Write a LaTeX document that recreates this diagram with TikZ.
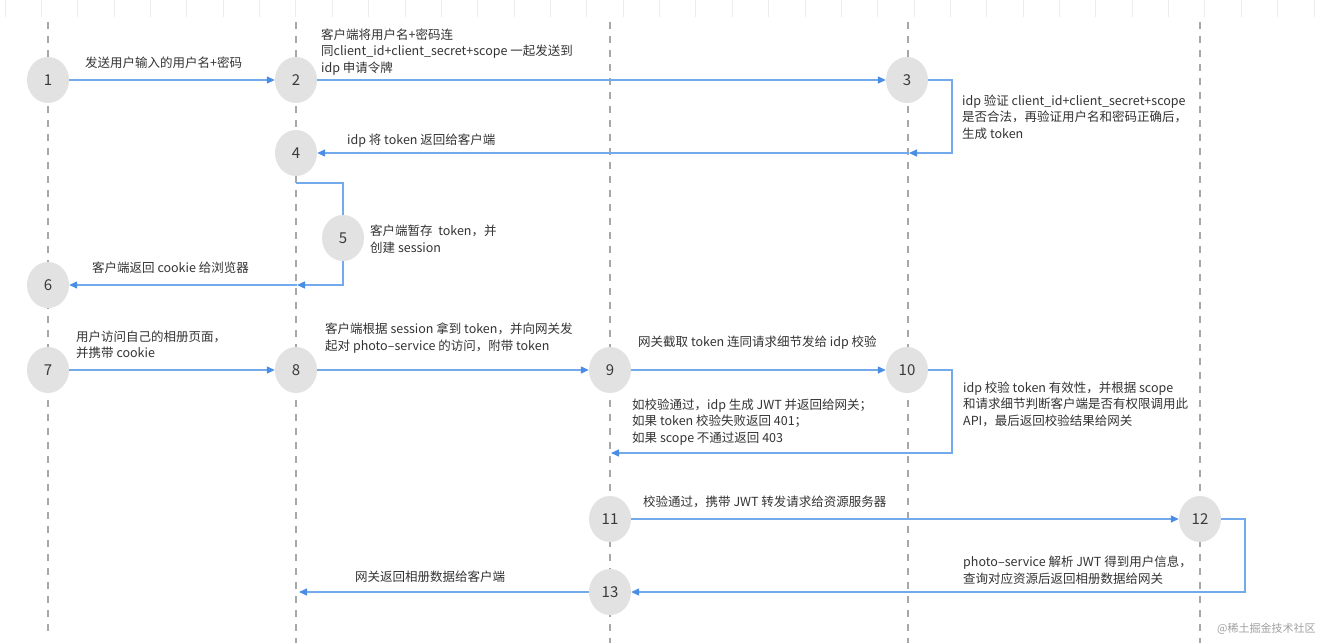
\documentclass[tikz,border=0pt]{standalone}
\usepackage{fontspec}
\newfontfamily\cjk{Noto Sans CJK SC}
\usetikzlibrary{arrows.meta,shapes.geometric}
\definecolor{flowblue}{HTML}{72AAEC}
\definecolor{tipblue}{HTML}{4A8DE6}
\definecolor{circgray}{HTML}{E2E2E2}
\definecolor{numgray}{HTML}{3A3A3A}
\definecolor{txtgray}{HTML}{333333}
\definecolor{lifegray}{HTML}{A8A8A8}
\definecolor{rulegray}{HTML}{EDEDED}
\definecolor{markgray}{HTML}{A0A0A0}
\begin{document}
\begin{tikzpicture}[x=1pt,y=-1pt,
  stepcirc/.style={ellipse,minimum width=42pt,minimum height=46pt,inner sep=0pt,fill=circgray,text=numgray,font=\cjk\fontsize{15}{15}\selectfont},
  lifeline/.style={draw=lifegray,line width=1.1pt,dash pattern=on 7pt off 7pt},
  flow/.style={draw=flowblue,line width=1.3pt,-{Triangle[length=8pt,width=7pt,color=tipblue]}},
  plainflow/.style={draw=flowblue,line width=1.3pt},
  lbl/.style={anchor=west,align=left,inner sep=0pt,text=txtgray,font=\cjk\fontsize{12.5}{16.5}\selectfont},
  rulemark/.style={draw=rulegray,line width=0.8pt}]
\useasboundingbox (0,0) rectangle (1334,643);
\fill[white] (0,0) rectangle (1334,643);
% faint ruler ticks at the top
\foreach \k in {0,...,36}{
  \draw[rulemark] ({5+36.36*\k},0) -- ({5+36.36*\k},17);
}
% lifelines
\draw[lifeline] (48,22) -- (48,636);
\draw[lifeline] (296,22) -- (296,643);
\draw[lifeline] (610,22) -- (610,643);
\draw[lifeline] (908,22) -- (908,643);
\draw[lifeline] (1200,22) -- (1200,643);
% steps
\node[stepcirc] (n1) at (48,80) {1};
\node[stepcirc] (n2) at (296,80) {2};
\node[stepcirc] (n3) at (907,80) {3};
\node[stepcirc] (n4) at (296,153) {4};
\node[stepcirc] (n5) at (343,238) {5};
\node[stepcirc] (n6) at (48,285) {6};
\node[stepcirc] (n7) at (48,370) {7};
\node[stepcirc] (n8) at (296,370) {8};
\node[stepcirc] (n9) at (610,370) {9};
\node[stepcirc] (n10) at (907,370) {10};
\node[stepcirc] (n11) at (610,519) {11};
\node[stepcirc] (n12) at (1200,519) {12};
\node[stepcirc] (n13) at (610,592) {13};
% helper coordinates
\coordinate (c3) at (909,153);
\coordinate (c4) at (296,183);
\coordinate (c6) at (297,285);
\coordinate (c10) at (611,453);
\coordinate (c13) at (299,592);
% connectors
\draw[flow] (n1) -- (n2);
\draw[flow] (n2) -- (n3);
\draw[flow] (n3.east) -- (952,80) |- (c3);
\draw[flow] (c3) -- (n4.east);
\draw[plainflow] (c4) -| (n5.north);
\draw[flow] (n5.south) |- (c6);
\draw[flow] (c6) -- (n6.east);
\draw[flow] (n7) -- (n8);
\draw[flow] (n8) -- (n9);
\draw[flow] (n9) -- (n10);
\draw[flow] (n10.east) -- (952,370) |- (c10);
\draw[flow] (n11) -- (n12);
\draw[flow] (n12.east) -- (1245,519) |- (n13.east);
\draw[flow] (n13.west) -- (c13);
% labels
\node[lbl] (t1) at (85,63) {发送用户输入的用户名+密码};
\node[lbl] (t2) at (321,52) {客户端将用户名+密码连\\同client\_id+client\_secret+scope 一起发送到\\idp 申请令牌};
\node[lbl] (t3) at (962,117) {idp 验证 client\_id+client\_secret+scope\\是否合法，再验证用户名和密码正确后，\\生成 token};
\node[lbl] (t4) at (347,141) {idp 将 token 返回给客户端};
\node[lbl] (t5) at (370,239) {客户端暂存\ \ token，并\\创建 session};
\node[lbl] (t6) at (92,268) {客户端返回 cookie 给浏览器};
\node[lbl] (t7) at (76,345) {用户访问自己的相册页面，\\并携带 cookie};
\node[lbl] (t8) at (325,338) {客户端根据 session 拿到 token，并向网关发\\起对 photo–service 的访问，附带 token};
\node[lbl] (t9) at (638,343) {网关截取 token 连同请求细节发给 idp 校验};
\node[lbl] (t10) at (963,404) {idp 校验 token 有效性，并根据 scope\\和请求细节判断客户端是否有权限调用此\\API，最后返回校验结果给网关};
\node[lbl] (t10b) at (632,422) {如校验通过，idp 生成 JWT 并返回给网关；\\如果 token 校验失败返回 401；\\如果 scope 不通过返回 403};
\node[lbl] (t11) at (643,502) {校验通过，携带 JWT 转发请求给资源服务器};
\node[lbl] (t12) at (963,570) {photo–service 解析 JWT 得到用户信息，\\查询对应资源后返回相册数据给网关};
\node[lbl] (t13) at (355,577) {网关返回相册数据给客户端};
\node[anchor=west,inner sep=0pt,text=markgray,font=\cjk\fontsize{11}{11}\selectfont] (wm) at (1217,629) {@稀土掘金技术社区};
\end{tikzpicture}
\end{document}
